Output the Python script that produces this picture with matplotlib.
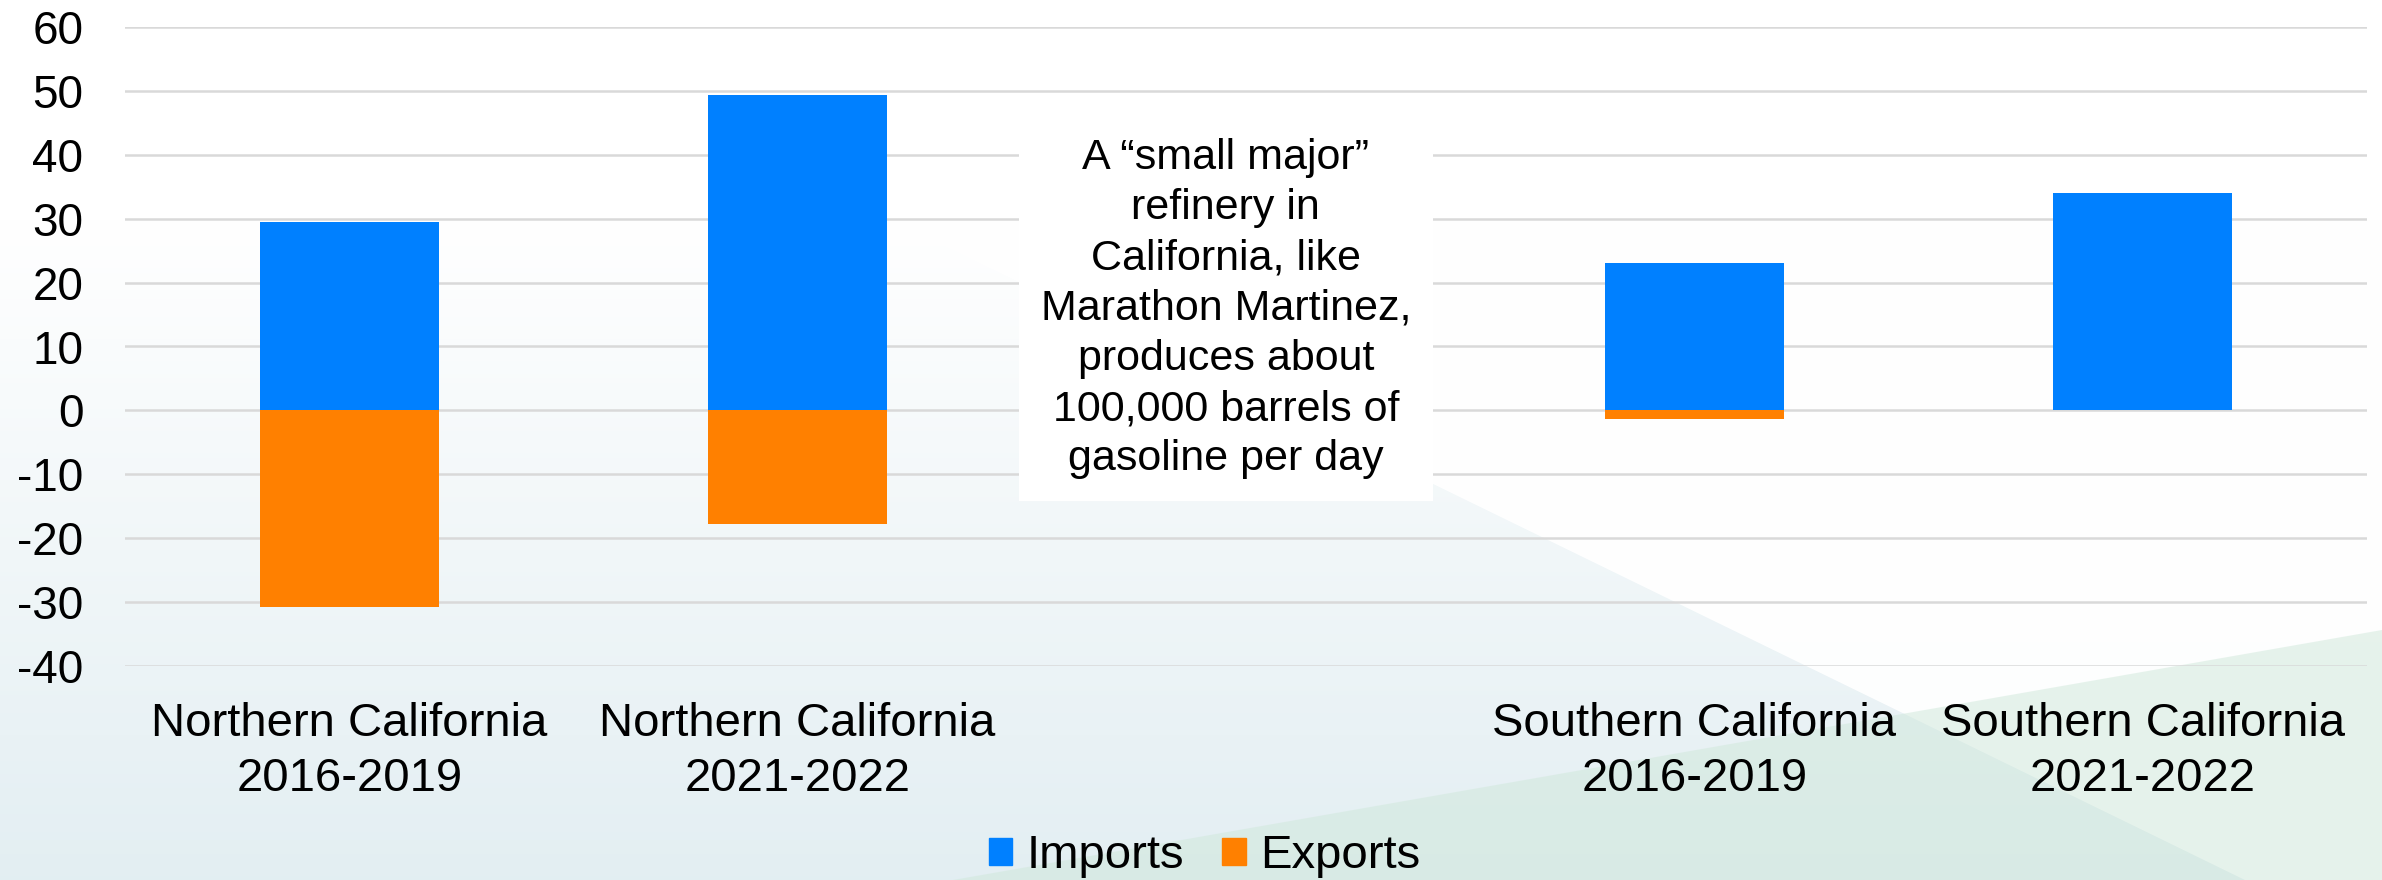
import numpy as np
import matplotlib
matplotlib.use("Agg")
import matplotlib.pyplot as plt
from matplotlib.patches import Polygon, Patch

plt.rcParams['font.family'] = ['Liberation Sans', 'DejaVu Sans']

# data (thousand barrels per day)
categories = ["Northern California\n2016-2019", "Northern California\n2021-2022", "",
              "Southern California\n2016-2019", "Southern California\n2021-2022"]
imports = [29.5, 49.4, np.nan, 23.0, 34.1]
exports = [-30.8, -17.8, np.nan, -1.4, 0.0]
yticks = [-40, -30, -20, -10, 0, 10, 20, 30, 40, 50, 60]
note = ("A \u201csmall major\u201d\nrefinery in\nCalifornia, like\nMarathon Martinez,\n"
        "produces about\n100,000 barrels of\ngasoline per day")

W, H = 2382, 880
fig = plt.figure(figsize=(W / 100, H / 100), dpi=100)

# background: white to pale blue gradient with light diagonal shapes
bg = fig.add_axes([0, 0, 1, 1], zorder=-10)
bg.set_xlim(0, W)
bg.set_ylim(H, 0)
bg.axis('off')
t = np.clip((np.linspace(0, 1, 200) - 0.25) / 0.75, 0, 1)[:, None, None]
top = np.array([1.0, 1.0, 1.0])
bot = np.array([0.89, 0.935, 0.95])
grad = top * (1 - t) + bot * t
bg.imshow(np.repeat(grad, 2, axis=1), extent=[0, W, H, 0], aspect='auto')
bg.add_patch(Polygon([[441, 0], [W, 0], [W, H], [2245, H]], closed=True,
                     facecolor='white', edgecolor='none', alpha=0.95))
bg.add_patch(Polygon([[953, H], [W, 630], [W, H]], closed=True,
                     facecolor='#cfe8da', edgecolor='none', alpha=0.5))

ax = fig.add_axes([125 / W, (H - 666) / H, 2242 / W, 639 / H])
ax.patch.set_alpha(0)
x = np.arange(len(categories))
ax.bar(x, imports, width=0.4, color='#0080ff', label='Imports', zorder=3)
ax.bar(x, exports, width=0.4, color='#ff8000', label='Exports', zorder=3)

ax.set_xlim(-0.5, len(categories) - 0.5)
ax.set_ylim(-40, 60)
ax.set_yticks(yticks)
ax.set_yticklabels([str(v) for v in yticks], fontsize=33)
ax.set_xticks(x)
ax.set_xticklabels(categories, fontsize=34, linespacing=1.33)
ax.tick_params(axis='y', length=0, pad=30)
ax.tick_params(axis='x', length=0, pad=26)
ax.grid(axis='y', color='#d9d9d9', linewidth=1.8, zorder=0)
for s in ax.spines.values():
    s.set_visible(False)

ax.text(1.955, 15.9, note, ha='center', va='center', fontsize=31, linespacing=1.33,
        zorder=4, bbox=dict(boxstyle='square,pad=0.5', facecolor='white', edgecolor='none'))

handles = [Patch(color='#0080ff'), Patch(color='#ff8000')]
fig.legend(handles, ['Imports', 'Exports'], loc='center', bbox_to_anchor=(0.5056, 0.027),
           ncol=2, frameon=False, fontsize=34, handlelength=0.5, handleheight=0.5,
           handletextpad=0.3, columnspacing=0.8)

fig.savefig('out.png', dpi=100)
